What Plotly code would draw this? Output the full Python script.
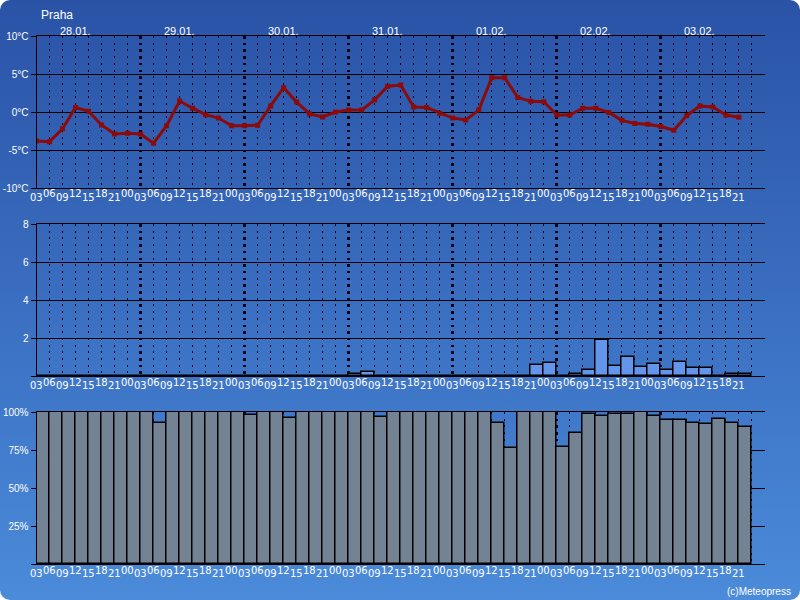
import base64
import plotly.graph_objects as go

# ---------------- data ----------------
hour_labels = ["03", "06", "09", "12", "15", "18", "21",
               "00", "03", "06", "09", "12", "15", "18", "21",
               "00", "03", "06", "09", "12", "15", "18", "21",
               "00", "03", "06", "09", "12", "15", "18", "21",
               "00", "03", "06", "09", "12", "15", "18", "21",
               "00", "03", "06", "09", "12", "15", "18", "21",
               "00", "03", "06", "09", "12", "15", "18", "21"]
day_labels = ["28.01.", "29.01.", "30.01.", "31.01.", "01.02.", "02.02.", "03.02."]
day_label_pos = [3, 11, 19, 27, 35, 43, 51]

temperature = [-3.8, -3.9, -2.2, 0.6, 0.1, -1.7, -2.9, -2.8, -2.9, -4.1,
               -1.8, 1.45, 0.5, -0.35, -0.8, -1.8, -1.8, -1.75, 0.8, 3.2,
               1.3, -0.25, -0.65, 0.0, 0.25, 0.25, 1.6, 3.4, 3.55, 0.65,
               0.6, -0.15, -0.8, -1.05, 0.25, 4.5, 4.5, 1.9, 1.4, 1.35,
               -0.4, -0.4, 0.5, 0.5, -0.05, -1.1, -1.5, -1.6, -1.9, -2.4,
               -0.45, 0.8, 0.65, -0.4, -0.7]
precip = [0, 0, 0, 0, 0, 0, 0, 0, 0, 0,
          0, 0, 0, 0, 0, 0, 0, 0, 0, 0,
          0, 0, 0, 0, 0.1, 0.2, 0, 0, 0, 0,
          0, 0, 0, 0, 0, 0, 0, 0, 0.6, 0.7,
          0, 0.1, 0.3, 1.9, 0.55, 1.0, 0.5, 0.65, 0.3, 0.75,
          0.4, 0.4, 0, 0.1, 0.1]
cloud = [100, 100, 100, 100, 100, 100, 100, 100, 100, 93,
         100, 100, 100, 100, 100, 100, 98, 100, 100, 96,
         100, 100, 100, 100, 100, 100, 96.5, 100, 100, 100,
         100, 100, 100, 100, 100, 92.5, 76, 100, 100, 100,
         77, 86, 98.5, 97.5, 98.5, 98.5, 100, 97.5, 94.5, 94.5,
         92.5, 92, 95.5, 92.5, 90]

temp_ticks = [-10, -5, 0, 5, 10]
temp_ticktext = ["-10°C", "-5°C", "0°C", "5°C", "10°C"]
precip_ticks = [0, 2, 4, 6, 8]
precip_ticktext = ["", "2", "4", "6", "8"]
cloud_ticks = [0, 25, 50, 75, 100]
cloud_ticktext = ["", "25%", "50%", "75%", "100%"]

idx = list(range(len(temperature)))

# ---------------- layout helpers ----------------
W, H = 800, 600
def py(p):
    return 1 - p / H

x_dom = [36.5 / W, 764.5 / W]
panels = [(36, 188), (224, 376), (412, 564)]  # top, bottom pixel rows

svg = ("<svg xmlns='http://www.w3.org/2000/svg' width='800' height='600'>"
       "<defs><linearGradient id='g' x1='0' y1='0' x2='0' y2='1'>"
       "<stop offset='0' stop-color='#2a53a6'/>"
       "<stop offset='0.5' stop-color='#3a6ec0'/>"
       "<stop offset='1' stop-color='#4b8bda'/>"
       "</linearGradient></defs>"
       "<rect x='0' y='0' width='800' height='600' rx='10' ry='10' fill='url(#g)'/></svg>")
bg_src = "data:image/svg+xml;base64," + base64.b64encode(svg.encode()).decode()

fig = go.Figure()

fig.add_trace(go.Bar(x=idx, y=precip, offset=0, width=1, xaxis="x2", yaxis="y2",
                     marker=dict(color="#6495ed", line=dict(color="black", width=1.5)),
                     hoverinfo="skip"))
fig.add_trace(go.Bar(x=idx, y=cloud, offset=0, width=1, xaxis="x3", yaxis="y3",
                     marker=dict(color="#738393", line=dict(color="black", width=1.5)),
                     hoverinfo="skip"))
fig.add_trace(go.Scatter(x=idx, y=temperature, mode="lines+markers", xaxis="x", yaxis="y",
                         line=dict(color="#8c0a0a", width=3),
                         marker=dict(color="#8c0a0a", size=5, symbol="square"),
                         hoverinfo="skip"))

grid_color = "#000010"
def xaxis_cfg(anchor):
    return dict(domain=x_dom, range=[0, 55.97], anchor=anchor, automargin=False,
                showticklabels=False, ticks="",
                tick0=0, dtick=8, showgrid=True, gridcolor=grid_color,
                gridwidth=2.5, griddash="2.5px,4.2px",
                minor=dict(tick0=0, dtick=1, showgrid=True, gridcolor=grid_color,
                           gridwidth=1, griddash="2px,4.7px", ticks=""),
                showline=True, mirror=True, linecolor="black", linewidth=1,
                zeroline=False, fixedrange=True)

def yaxis_cfg(anchor, top, bottom, rng, tv, tt):
    return dict(domain=[py(bottom), py(top)], range=rng, anchor=anchor, automargin=False,
                tickvals=tv, ticktext=tt, ticks="outside", ticklen=5,
                tickcolor="black", tickwidth=1,
                tickfont=dict(family="Liberation Sans, Arial", size=10, color="white"),
                showgrid=True, gridcolor="black", gridwidth=1,
                showline=True, linecolor="black", linewidth=1,
                zeroline=False, fixedrange=True)

annotations = []
fnt = dict(family="DejaVu Sans", size=10, color="white")
xrefs = ["x", "x2", "x3"]
for (top, bottom), xr in zip(panels, xrefs):
    for i, lab in enumerate(hour_labels):
        off = 9.7 if i % 2 == 0 else 6.0
        annotations.append(dict(x=i, y=py(bottom + off), xref=xr, yref="paper",
                                text=lab, showarrow=False, font=fnt,
                                xanchor="center", yanchor="middle"))
for d, p in zip(day_labels, day_label_pos):
    annotations.append(dict(x=p, y=py(31), xref="x", yref="paper", text=d,
                            showarrow=False,
                            font=dict(family="Liberation Sans, Arial", size=11, color="white"),
                            xanchor="center", yanchor="middle"))
annotations.append(dict(x=39 / W, y=py(15), xref="paper", yref="paper", text="Praha",
                        showarrow=False, xanchor="left", yanchor="middle",
                        font=dict(family="Liberation Sans, Arial", size=12, color="white")))
annotations.append(dict(x=793 / W, y=py(591), xref="paper", yref="paper", text="(c)Meteopress",
                        showarrow=False, xanchor="right", yanchor="middle",
                        font=dict(family="Liberation Sans, Arial", size=10, color="white")))

fig.update_layout(
    width=W, height=H, autosize=False,
    margin=dict(l=0, r=0, t=0, b=0, pad=0, autoexpand=False),
    paper_bgcolor="white", plot_bgcolor="rgba(0,0,0,0)",
    showlegend=False, bargap=0,
    images=[dict(source=bg_src, xref="paper", yref="paper", x=0, y=1, sizex=1, sizey=1,
                 sizing="stretch", xanchor="left", yanchor="top", layer="below")],
    xaxis=xaxis_cfg("y"), xaxis2=xaxis_cfg("y2"), xaxis3=xaxis_cfg("y3"),
    yaxis=yaxis_cfg("x", *panels[0], [-10, 10], temp_ticks, temp_ticktext),
    yaxis2=yaxis_cfg("x2", *panels[1], [0, 8], precip_ticks, precip_ticktext),
    yaxis3=yaxis_cfg("x3", *panels[2], [0, 100], cloud_ticks, cloud_ticktext),
    annotations=annotations,
)

place_js = ("document.body.style.margin='0';document.body.style.padding='0';"
            "var d=document.getElementById('{plot_id}');"
            "d.style.position='absolute';d.style.left='0px';d.style.top='0px';")
fig.write_html("out.html", config={"displayModeBar": False}, post_script=place_js)
